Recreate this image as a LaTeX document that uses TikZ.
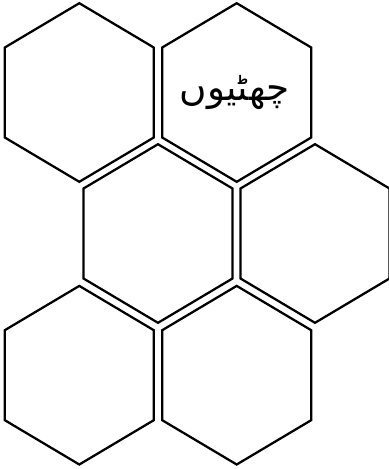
\documentclass[tikz,border=0pt]{standalone}
\usepackage{fontspec}
\usepackage{tikz}
\usetikzlibrary{positioning, calc}
\TeXXeTstate=1
\newfontfamily\arabicfont[Script=Arabic]{DejaVu Sans}

\begin{document}
\begin{tikzpicture}[
	x=0.75pt, y=-0.75pt,
	% --- Styles ---
	hexline/.style={
		draw, line width=1.7pt, line join=miter, color=black
	},
	hexcell/.pic={
		\draw [hexline] (0,-89.3) -- (74.5,-45) -- (74.5,45) -- (0,89.3) -- (-74.5,45) -- (-74.5,-45) -- cycle;
	},
	celltext/.style={
		font=\arabicfont\fontsize{28}{33}\selectfont, inner sep=0pt
	}
	]
	
	% --- Frame ---
	\useasboundingbox (0,0) rectangle (389,469);
	
	% --- Cell centres ---
	\coordinate (cellA) at (79.3,92.5);
	\coordinate (cellB) at (236.7,92.5);
	\coordinate (cellC) at (158,233.5);
	\coordinate (cellD) at (315,233.5);
	\coordinate (cellE) at (79.3,375.2);
	\coordinate (cellF) at (236.7,375.2);
	
	% --- Honeycomb ---
	\foreach \c in {cellA, cellB, cellC, cellD, cellE, cellF}
		\pic at (\c) {hexcell};
	
	% --- Label ---
	\node [celltext] (holiday) at ($(cellB)+(-2,0)$) {\beginR چھٹیوں\endR};
	
\end{tikzpicture}
\end{document}
